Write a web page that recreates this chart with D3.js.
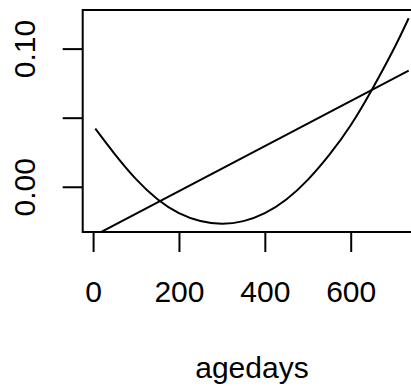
<!DOCTYPE html>
<html>
<head>
<meta charset="utf-8">
<script src="https://cdn.jsdelivr.net/npm/d3@7"></script>
<style>
  html, body { margin: 0; padding: 0; background: #fff; }
  svg { display: block; }
  text { font-family: "Liberation Sans", Arial, Helvetica, sans-serif; fill: #000; }
</style>
</head>
<body>
<script>
// Quadratic fit in age (days)
const ageDays  = [5, 50, 100, 150, 200, 250, 300, 350, 400, 450, 500, 550, 600, 650, 700, 735];
const quadFit  = [0.0421, 0.0238, 0.0055, -0.0090, -0.0191, -0.0248, -0.0268, -0.0249, -0.0191,
                  -0.0092, 0.0050, 0.0230, 0.0445, 0.0706, 0.0995, 0.1220];
// Straight-line fit over the same span
const lineAge  = [5, 735];
const lineFit  = [-0.0350, 0.0840];

const xTicks = [0, 200, 400, 600];
const yTicks = [0.00, 0.05, 0.10];
const yTickLabels = ["0.00", "", "0.10"];
const xTitle = "agedays";

const W = 411, H = 387;
const plot = { left: 82.7, top: 10, right: 421.2, bottom: 232 };

// R-style 4% padding around the data range
function padded(ext) {
  const d = (ext[1] - ext[0]) * 0.04;
  return [ext[0] - d, ext[1] + d];
}

const x = d3.scaleLinear().domain(padded(d3.extent(ageDays))).range([plot.left, plot.right]);
const y = d3.scaleLinear().domain(padded(d3.extent(quadFit))).range([plot.bottom, plot.top]);

const svg = d3.select("body").append("svg").attr("width", W).attr("height", H);

svg.append("defs").append("clipPath").attr("id", "plot-clip")
  .append("rect")
  .attr("x", plot.left).attr("y", plot.top)
  .attr("width", plot.right - plot.left).attr("height", plot.bottom - plot.top);

const g = svg.append("g").attr("clip-path", "url(#plot-clip)");

const curvePts = ageDays.map((a, i) => [a, quadFit[i]]);
g.append("path")
  .datum(curvePts)
  .attr("fill", "none").attr("stroke", "#000").attr("stroke-width", 2)
  .attr("d", d3.line().x(d => x(d[0])).y(d => y(d[1])).curve(d3.curveNatural));

const linePts = lineAge.map((a, i) => [a, lineFit[i]]);
g.append("path")
  .datum(linePts)
  .attr("fill", "none").attr("stroke", "#000").attr("stroke-width", 2)
  .attr("d", d3.line().x(d => x(d[0])).y(d => y(d[1])));

// Plot frame
svg.append("rect")
  .attr("x", plot.left).attr("y", plot.top)
  .attr("width", plot.right - plot.left).attr("height", plot.bottom - plot.top)
  .attr("fill", "none").attr("stroke", "#000").attr("stroke-width", 2);

// Bottom axis
const xAxis = svg.append("g")
  .attr("transform", `translate(0,${plot.bottom})`)
  .call(d3.axisBottom(x).tickValues(xTicks).tickSize(20).tickSizeOuter(0).tickFormat(d3.format("d")));
xAxis.select(".domain").remove();
xAxis.selectAll(".tick line").attr("stroke", "#000").attr("stroke-width", 2);
xAxis.selectAll(".tick text")
  .attr("y", 69.7).attr("dy", null)
  .attr("font-size", 30).attr("font-family", null).attr("fill", "#000");

// Left axis
const yAxis = svg.append("g")
  .attr("transform", `translate(${plot.left},0)`)
  .call(d3.axisLeft(y).tickValues(yTicks).tickSize(20).tickSizeOuter(0)
        .tickFormat((d, i) => yTickLabels[i]));
yAxis.select(".domain").remove();
yAxis.selectAll(".tick line").attr("stroke", "#000").attr("stroke-width", 2);
yAxis.selectAll(".tick text")
  .attr("x", null).attr("dy", null)
  .attr("transform", "translate(-47.5,0) rotate(-90)")
  .attr("text-anchor", "middle")
  .attr("font-size", 30).attr("font-family", null).attr("fill", "#000");

// Axis title
svg.append("text")
  .attr("x", (plot.left + plot.right) / 2).attr("y", 377.5)
  .attr("text-anchor", "middle")
  .attr("font-size", 30)
  .text(xTitle);
</script>
</body>
</html>
